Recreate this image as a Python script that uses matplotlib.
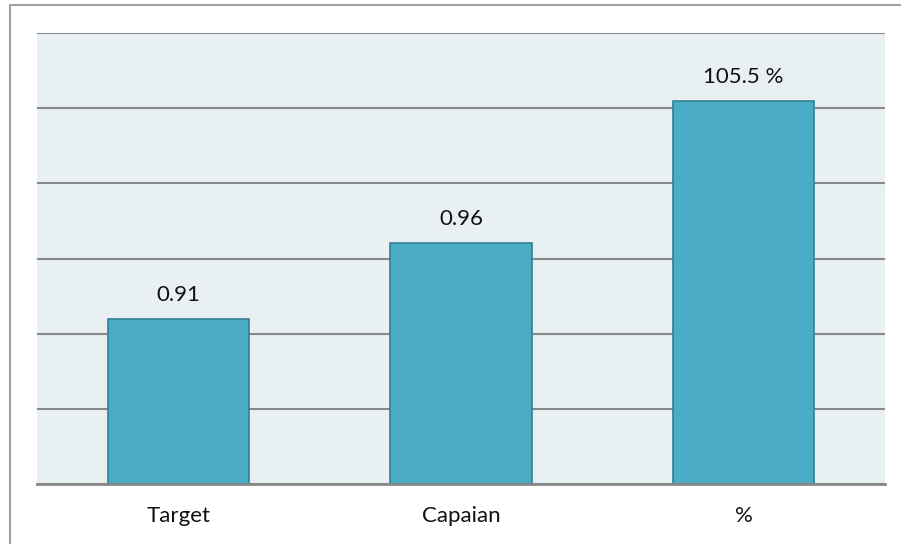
import matplotlib.pyplot as plt
from matplotlib.patches import Rectangle

categories = ["Target", "Capaian", "%"]
values = [0.91, 0.96, 1.055]
labels = ["0.91", "0.96", "105.5 %"]

plt.rcParams['font.family'] = ['Lato', 'DejaVu Sans']

W, H = 901, 544
fig = plt.figure(figsize=(W / 100, H / 100), dpi=100)

# outer frame of the chart area
fig.patches.append(Rectangle((9.5 / W, -0.1), 1.2, 1.1 - 5.5 / H, transform=fig.transFigure,
                             fill=False, edgecolor="#a0a0a0", linewidth=1.5))

ax = fig.add_axes([37 / W, (H - 484) / H, (885 - 37) / W, (484 - 33) / H])
ax.set_facecolor("#e8f0f3")

x = range(len(categories))
bars = ax.bar(x, values, width=0.5, color="#4bacc6", edgecolor="#357f94", linewidth=1.2, zorder=3)

for b, lab in zip(bars, labels):
    ax.annotate(lab, (b.get_x() + b.get_width() / 2, b.get_height()),
                xytext=(0, 13), textcoords="offset points",
                ha="center", va="baseline", fontsize=16, color="#111111")

ax.set_ylim(0.80, 1.10)
ax.set_xlim(-0.5, 2.5)
ax.set_yticks([0.80, 0.85, 0.90, 0.95, 1.00, 1.05, 1.10])
ax.yaxis.grid(True, color="#888888", linewidth=1.5, zorder=1)
ax.set_axisbelow(True)
ax.tick_params(axis="y", left=False, labelleft=False)
ax.tick_params(axis="x", bottom=False, pad=12, labelsize=16, labelcolor="#111111")
ax.set_xticks(list(x))
ax.set_xticklabels(categories)

for s in ["left", "right", "top"]:
    ax.spines[s].set_visible(False)
ax.spines["bottom"].set_color("#888888")
ax.spines["bottom"].set_linewidth(2)
ax.spines["bottom"].set_zorder(4)

fig.savefig("out.png", dpi=100)
